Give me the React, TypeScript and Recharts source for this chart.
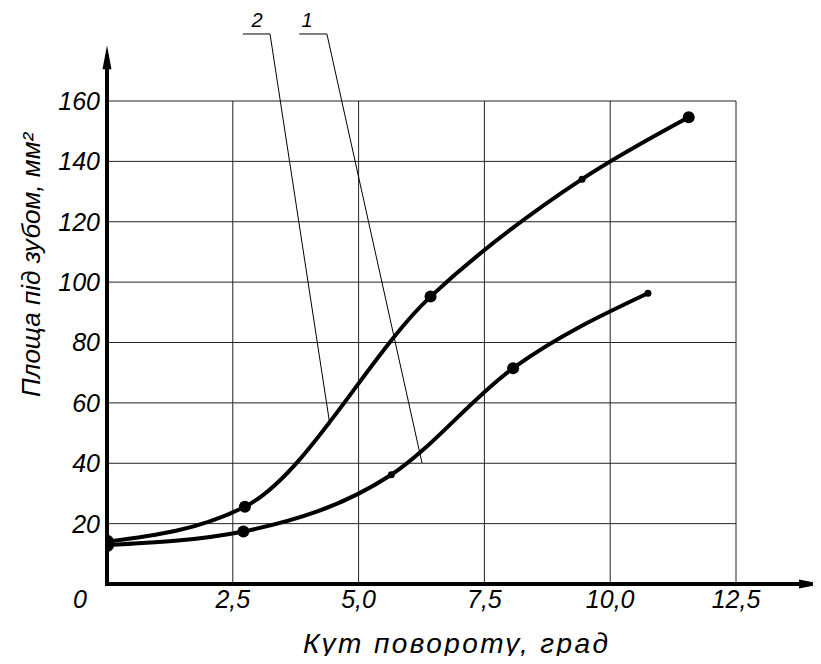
import {
  LineChart,
  Line,
  XAxis,
  YAxis,
  CartesianGrid,
  ReferenceLine,
  Customized,
} from "recharts";

// curve 2 (upper) and curve 1 (lower)
const angle2 = [0, 2.74, 6.43, 9.44, 11.56];
const area2 = [14, 25.6, 95.2, 134.1, 154.6];
const angle1 = [0, 2.71, 5.65, 8.07, 10.75];
const area1 = [12.9, 17.4, 36.2, 71.5, 96.3];

const xTicks = [0, 2.5, 5, 7.5, 10, 12.5];
const yTicks = [0, 20, 40, 60, 80, 100, 120, 140, 160];

const curve2 = angle2.map((x, i) => ({ x, y: area2[i] }));
const curve1 = angle1.map((x, i) => ({ x, y: area1[i] }));

// which markers are drawn small
const small2 = [3];
const small1 = [2, 4];

const FONT = "'Liberation Sans', Arial, sans-serif";

const makeDot = (small: number[]) => (props: any) => {
  const { cx, cy, index } = props;
  const r = small.includes(index) ? 3.5 : index === 0 ? 7 : 6;
  return <circle key={index} cx={cx} cy={cy} r={r} fill="#000" />;
};

const fmt = (v: number) => (v === 0 ? "0" : v.toFixed(1).replace(".", ","));

function XTick(props: any) {
  const { x, y, payload } = props;
  const dx = payload.value === 0 ? -27 : 0;
  return (
    <text
      x={x + dx}
      y={y}
      dy="0.71em"
      textAnchor="middle"
      fontFamily={FONT}
      fontStyle="italic"
      fontSize={25}
      fill="#000"
    >
      {fmt(payload.value)}
    </text>
  );
}

function ArrowX(props: any) {
  const { x1, y1, x2 } = props;
  return (
    <g>
      <line x1={x1 - 2} y1={y1} x2={x2 - 10} y2={y1} stroke="#000" strokeWidth={4} />
      <path d={`M${x2},${y1} L${x2 - 22},${y1 - 4.5} L${x2 - 22},${y1 + 4.5} Z`} fill="#000" />
    </g>
  );
}

function ArrowY(props: any) {
  const { x1, y1, y2 } = props;
  const top = Math.min(y1, y2);
  const bottom = Math.max(y1, y2);
  return (
    <g>
      <line x1={x1} y1={bottom + 2} x2={x1} y2={top + 10} stroke="#000" strokeWidth={4} />
      <path d={`M${x1},${top} L${x1 - 4.5},${top + 24} L${x1 + 4.5},${top + 24} Z`} fill="#000" />
    </g>
  );
}

function Titles() {
  return (
    <g fontFamily={FONT} fontStyle="italic" fill="#000">
      <text
        x={303}
        y={653}
        fontSize={28}
        textLength={305}
        lengthAdjust="spacing"
      >
        Кут повороту,  град
      </text>
      <text
        x={40}
        y={265}
        textAnchor="middle"
        fontSize={26}
        transform="rotate(-90, 40, 265)"
      >
        Площа під зубом, мм²
      </text>
      <text x={257} y={27} textAnchor="middle" fontSize={20}>
        2
      </text>
      <text x={307} y={27} textAnchor="middle" fontSize={20}>
        1
      </text>
    </g>
  );
}

export default function App() {
  return (
    <div style={{ margin: -8, background: "#fff" }}>
      <LineChart
        width={821}
        height={664}
        margin={{ top: 101, right: 85, bottom: 50, left: 47 }}
      >
        <CartesianGrid stroke="#222" strokeWidth={1} />
        <XAxis
          type="number"
          dataKey="x"
          domain={[0, 12.5]}
          ticks={xTicks}
          allowDataOverflow
          height={30}
          axisLine={false}
          tickLine={false}
          tickSize={0}
          tickMargin={6}
          tick={<XTick />}
          interval={0}
        />
        <YAxis
          type="number"
          dataKey="y"
          domain={[0, 160]}
          ticks={yTicks}
          allowDataOverflow
          width={60}
          axisLine={false}
          tickLine={false}
          tickSize={0}
          tickMargin={7}
          interval={0}
          tickFormatter={(v: number) => (v === 0 ? "" : String(v))}
          tick={{
            fill: "#000",
            fontSize: 25,
            fontStyle: "italic",
            fontFamily: FONT,
          }}
        />
        <ReferenceLine
          segment={[{ x: 0, y: 0 }, { x: 14.19, y: 0 }]}
          ifOverflow="visible"
          shape={(p: any) => <ArrowX {...p} />}
        />
        <ReferenceLine
          segment={[{ x: 0, y: 0 }, { x: 0, y: 178.5 }]}
          ifOverflow="visible"
          shape={(p: any) => <ArrowY {...p} />}
        />
        {/* leader lines for curve labels */}
        <ReferenceLine
          segment={[{ x: 2.7, y: 182.2 }, { x: 3.24, y: 182.2 }]}
          ifOverflow="visible"
          stroke="#000"
          strokeWidth={1}
        />
        <ReferenceLine
          segment={[{ x: 3.24, y: 182.2 }, { x: 4.43, y: 52.7 }]}
          ifOverflow="visible"
          stroke="#000"
          strokeWidth={1}
        />
        <ReferenceLine
          segment={[{ x: 3.82, y: 182.2 }, { x: 4.37, y: 182.2 }]}
          ifOverflow="visible"
          stroke="#000"
          strokeWidth={1}
        />
        <ReferenceLine
          segment={[{ x: 4.37, y: 182.2 }, { x: 6.26, y: 40.1 }]}
          ifOverflow="visible"
          stroke="#000"
          strokeWidth={1}
        />
        <Line
          data={curve1}
          dataKey="y"
          type="monotone"
          stroke="#000"
          strokeWidth={4}
          dot={makeDot(small1)}
          activeDot={false}
          isAnimationActive={false}
        />
        <Line
          data={curve2}
          dataKey="y"
          type="monotone"
          stroke="#000"
          strokeWidth={4}
          dot={makeDot(small2)}
          activeDot={false}
          isAnimationActive={false}
        />
        <Customized component={Titles} />
      </LineChart>
    </div>
  );
}
